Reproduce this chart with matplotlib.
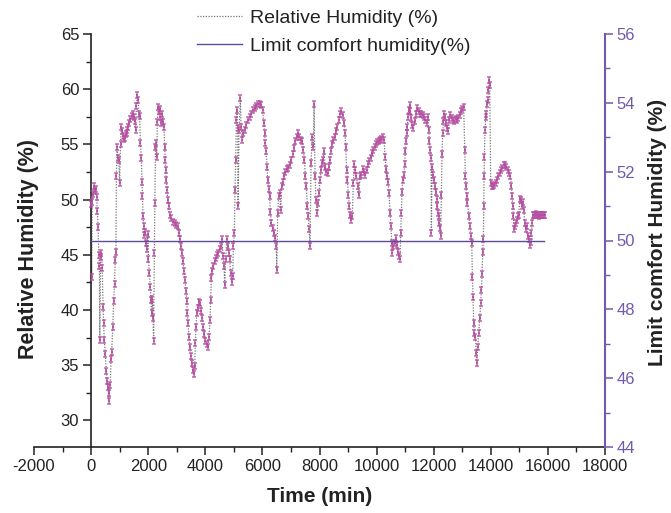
import matplotlib
matplotlib.use("Agg")
import matplotlib.pyplot as plt
from matplotlib.path import Path
from matplotlib.ticker import MultipleLocator

plt.rcParams['font.family'] = ['Liberation Sans', 'DejaVu Sans']

time_min = [
    0, 20, 40, 70, 100, 130, 160, 190, 220, 245, 270, 290, 305, 330, 360, 390, 420, 440, 460, 500,
    530, 560, 590, 615, 640, 670, 700, 720, 760, 790, 820, 845, 870, 885, 910, 940, 970, 1000, 1030, 1060,
    1090, 1120, 1150, 1180, 1210, 1240, 1270, 1300, 1340, 1380, 1420, 1460, 1500, 1530, 1560, 1590, 1620, 1650, 1670, 1700,
    1725, 1760, 1785, 1800, 1820, 1845, 1870, 1900, 1930, 1960, 1990, 2010, 2040, 2070, 2100, 2120, 2150, 2170, 2190, 2215,
    2235, 2255, 2280, 2300, 2320, 2345, 2370, 2400, 2430, 2460, 2490, 2520, 2554, 2577, 2600, 2612, 2636, 2659, 2682, 2717,
    2752, 2811, 2869, 2928, 2986, 3044, 3079, 3103, 3138, 3184, 3219, 3254, 3290, 3325, 3348, 3371, 3395, 3430, 3453, 3488,
    3523, 3558, 3593, 3628, 3652, 3675, 3698, 3733, 3780, 3827, 3862, 3897, 3932, 3967, 4002, 4049, 4095, 4130, 4166, 4189,
    4212, 4247, 4282, 4329, 4364, 4411, 4458, 4504, 4551, 4586, 4621, 4656, 4679, 4714, 4750, 4785, 4820, 4855, 4890, 4925,
    4960, 4983, 5018, 5041, 5065, 5088, 5112, 5135, 5147, 5182, 5228, 5252, 5299, 5333, 5380, 5438, 5496, 5555, 5613, 5672,
    5730, 5788, 5847, 5905, 5964, 6010, 6045, 6080, 6104, 6127, 6162, 6186, 6221, 6256, 6279, 6314, 6361, 6407, 6454, 6489,
    6501, 6536, 6571, 6606, 6641, 6676, 6711, 6758, 6805, 6851, 6898, 6956, 7015, 7061, 7108, 7155, 7202, 7248, 7295, 7342,
    7389, 7435, 7470, 7505, 7540, 7575, 7610, 7634, 7669, 7704, 7739, 7786, 7809, 7844, 7879, 7914, 7949, 7983, 8018, 8053,
    8088, 8123, 8158, 8193, 8240, 8287, 8322, 8357, 8392, 8439, 8485, 8532, 8579, 8626, 8672, 8719, 8766, 8812, 8859, 8894,
    8918, 8953, 8976, 9011, 9046, 9081, 9116, 9151, 9186, 9221, 9256, 9291, 9338, 9373, 9420, 9467, 9513, 9560, 9607, 9654,
    9700, 9747, 9794, 9840, 9887, 9934, 9981, 10027, 10074, 10121, 10167, 10214, 10261, 10296, 10331, 10366, 10401, 10436, 10471, 10506,
    10530, 10553, 10587, 10634, 10680, 10715, 10750, 10785, 10820, 10844, 10867, 10891, 10914, 10949, 10984, 11007, 11031, 11054, 11077, 11101,
    11124, 11159, 11183, 11218, 11253, 11288, 11334, 11381, 11428, 11475, 11521, 11568, 11615, 11661, 11708, 11755, 11802, 11825, 11848, 11883,
    11907, 11918, 11942, 11965, 12000, 12035, 12070, 12105, 12129, 12152, 12175, 12199, 12222, 12245, 12269, 12292, 12316, 12339, 12374, 12409,
    12444, 12479, 12514, 12549, 12584, 12631, 12678, 12724, 12771, 12818, 12865, 12911, 12958, 13005, 13051, 13086, 13110, 13133, 13156, 13180,
    13238, 13273, 13308, 13332, 13355, 13378, 13402, 13425, 13460, 13495, 13507, 13542, 13577, 13612, 13647, 13670, 13694, 13717, 13740, 13752,
    13764, 13775, 13799, 13822, 13846, 13869, 13892, 13916, 13939, 13962, 13997, 14032, 14079, 14126, 14173, 14219, 14266, 14313, 14360, 14406,
    14453, 14500, 14546, 14593, 14640, 14687, 14722, 14745, 14768, 14792, 14815, 14838, 14873, 14908, 14943, 14979, 15014, 15049, 15084, 15119,
    15154, 15189, 15224, 15259, 15294, 15329, 15364, 15399, 15422, 15446, 15469, 15504, 15540, 15575, 15610, 15645, 15680, 15715, 15750, 15785,
    15820, 15855, 15890,
]

rh = [
    49.6, 43.0, 49.8, 50.5, 51.2, 50.8, 51.0, 50.2, 49.0, 47.5, 45.0, 44.0, 37.3, 44.8, 45.2, 43.8, 40.3, 38.8, 37.3, 36.0,
    34.5, 33.6, 33.0, 31.8, 32.5, 33.2, 35.6, 36.2, 38.5, 40.8, 42.4, 44.5, 45.3, 52.1, 54.8, 53.8, 53.6, 51.5, 55.0, 56.6,
    56.2, 55.8, 55.5, 55.6, 55.9, 56.0, 56.3, 56.6, 56.9, 57.3, 57.6, 57.8, 57.5, 57.1, 56.3, 58.5, 59.5, 59.0, 57.8, 57.6,
    55.1, 53.8, 51.6, 50.3, 48.5, 47.6, 46.8, 47.1, 46.1, 45.5, 46.9, 44.6, 43.4, 42.1, 40.9, 39.7, 41.0, 39.3, 37.2, 45.2,
    49.7, 54.8, 55.1, 53.9, 57.0, 58.4, 58.0, 58.2, 57.5, 56.9, 57.8, 57.0, 56.6, 54.8, 53.6, 52.7, 51.8, 50.9, 50.0, 49.4,
    48.6, 48.3, 48.0, 47.9, 47.7, 47.6, 47.0, 46.4, 45.8, 45.2, 44.4, 43.5, 42.7, 41.7, 40.8, 39.7, 38.8, 37.6, 36.7, 35.8,
    35.2, 34.6, 34.2, 34.9, 37.0, 38.5, 39.7, 40.2, 40.7, 40.6, 39.9, 39.3, 38.5, 37.8, 37.2, 36.9, 36.7, 37.6, 39.1, 40.9,
    42.9, 43.5, 44.0, 44.4, 44.7, 45.0, 45.2, 45.5, 45.8, 46.4, 44.9, 44.0, 42.3, 44.6, 46.4, 45.8, 45.2, 44.6, 43.4, 42.5,
    43.1, 45.8, 47.0, 50.9, 53.6, 57.2, 58.1, 56.5, 49.4, 56.3, 59.2, 56.6, 55.4, 56.0, 56.3, 56.8, 57.2, 57.5, 57.8, 58.1,
    58.3, 58.5, 58.7, 58.7, 58.6, 58.1, 56.9, 56.0, 55.1, 54.4, 53.0, 51.8, 51.0, 50.3, 48.9, 47.9, 47.4, 47.0, 46.5, 45.8,
    43.6, 48.8, 50.3, 50.6, 49.1, 51.2, 51.6, 52.1, 52.5, 52.8, 52.9, 53.1, 53.6, 54.1, 54.7, 55.3, 55.7, 56.0, 55.7, 55.4,
    55.3, 54.5, 53.6, 52.1, 51.2, 49.4, 48.5, 47.3, 45.8, 53.3, 55.7, 54.8, 58.7, 52.1, 50.0, 48.8, 49.7, 50.6, 51.8, 52.7,
    53.3, 53.6, 54.4, 53.0, 52.5, 52.4, 53.0, 53.6, 54.4, 55.0, 55.4, 55.7, 56.2, 56.6, 57.2, 57.8, 58.0, 57.7, 56.9, 56.0,
    54.8, 52.7, 51.8, 50.4, 49.4, 48.6, 48.2, 48.5, 51.5, 53.2, 52.7, 52.1, 51.2, 50.4, 52.1, 52.2, 52.8, 52.5, 52.2, 52.7,
    53.2, 53.5, 53.8, 54.2, 54.5, 54.8, 55.05, 55.2, 55.3, 55.4, 55.5, 55.7, 55.4, 53.9, 52.8, 52.1, 51.6, 50.6, 48.8, 47.6,
    46.1, 45.2, 45.8, 46.1, 46.5, 45.9, 45.3, 44.9, 44.6, 47.0, 48.8, 50.7, 51.8, 52.2, 53.2, 54.4, 55.3, 56.0, 56.6, 57.5,
    58.1, 58.6, 58.0, 57.4, 56.8, 56.5, 57.1, 57.8, 58.3, 58.0, 57.8, 57.8, 57.7, 57.5, 57.2, 56.9, 57.5, 56.3, 55.3, 54.5,
    53.8, 47.0, 53.0, 52.2, 51.8, 51.2, 50.7, 50.1, 49.4, 48.8, 48.5, 47.9, 47.4, 46.7, 50.4, 54.1, 56.0, 57.1, 57.8, 57.5,
    56.9, 56.5, 56.2, 57.2, 57.7, 57.4, 57.2, 57.1, 57.3, 57.2, 57.4, 57.7, 58.0, 58.2, 58.4, 54.5, 52.1, 51.2, 50.3, 49.7,
    48.5, 47.6, 46.7, 46.1, 43.0, 41.2, 38.8, 37.9, 37.6, 36.1, 35.2, 36.7, 37.9, 39.3, 40.6, 41.8, 43.3, 45.3, 46.4, 49.4,
    52.1, 53.9, 56.3, 57.5, 57.8, 58.7, 59.0, 59.9, 60.8, 60.4, 51.5, 51.2, 51.2, 51.3, 51.5, 51.8, 52.1, 52.4, 52.7, 52.9,
    53.1, 53.15, 53.0, 52.7, 52.4, 52.1, 51.2, 50.3, 49.4, 48.5, 47.3, 47.6, 47.9, 48.2, 48.5, 48.6, 50.1, 50.0, 49.4, 49.8,
    49.1, 47.9, 47.3, 47.6, 46.7, 46.4, 45.9, 46.2, 47.0, 47.9, 48.6, 48.6, 48.6, 48.7, 48.6, 48.6, 48.5, 48.6, 48.6, 48.6,
    48.6, 48.6, 48.6,
]

limit_time = [0, 15880]
limit_value = [50, 50]

x_ticks = list(range(-2000, 18001, 2000))
left_ticks = [30, 35, 40, 45, 50, 55, 60, 65]
right_ticks = [44, 46, 48, 50, 52, 54, 56]

purple = '#7259AE'
marker_col = '#B64FA2'
txt = '#222222'

fig = plt.figure(figsize=(6.71, 5.13), dpi=100)
ax = fig.add_axes([34/671, 1 - 447/513, 571/671, 413/513])
ax2 = ax.twinx()

ax.set_xlim(-2000, 18000)
ax.set_ylim(27.6, 65)
ax2.set_ylim(44, 56)

# I-shaped marker
ipath = Path([(-0.6, 1), (0.6, 1), (0, 1), (0, -1), (-0.6, -1), (0.6, -1)],
             [Path.MOVETO, Path.LINETO, Path.MOVETO, Path.LINETO, Path.MOVETO, Path.LINETO])

ax.plot(time_min, rh, linestyle=(0, (1, 1.2)), color='#777777', lw=0.9,
        label='Relative Humidity (%)', zorder=2)
ax.plot(time_min, rh, linestyle='none', marker=ipath, markersize=4.5,
        markeredgewidth=1.1, markeredgecolor=marker_col, alpha=0.85, zorder=3)
ax.plot(time_min, rh, linestyle='none', marker='s', markersize=1.8,
        markeredgewidth=0, markerfacecolor=marker_col, alpha=0.85, zorder=3)

ax2.plot(limit_time, limit_value, color='#5E4C9A', lw=1.0,
         label='Limit comfort humidity(%)', zorder=4)

# spines
ax.spines['left'].set_position(('data', 0))
ax.spines['top'].set_visible(False)
ax.spines['right'].set_visible(False)
ax.spines['left'].set_color(txt)
ax.spines['bottom'].set_color(txt)
ax.spines['left'].set_linewidth(1.2)
ax.spines['bottom'].set_linewidth(1.2)
for s in ['top', 'left', 'bottom']:
    ax2.spines[s].set_visible(False)
ax2.spines['right'].set_color(purple)
ax2.spines['right'].set_linewidth(1.5)

ax.set_xticks(x_ticks)
ax.set_xticklabels([str(v) for v in x_ticks])
ax.xaxis.set_minor_locator(MultipleLocator(1000))
ax.set_yticks(left_ticks)
ax.set_yticklabels([str(v) for v in left_ticks])
ax.yaxis.set_minor_locator(MultipleLocator(2.5))
ax2.set_yticks(right_ticks)
ax2.set_yticklabels([str(v) for v in right_ticks])
ax2.yaxis.set_minor_locator(MultipleLocator(1))

ax.tick_params(axis='both', which='major', direction='out', length=5.5, width=1.1,
               color=txt, labelsize=12, labelcolor=txt, pad=3)
ax.tick_params(axis='both', which='minor', direction='out', length=3.5, width=1.0, color=txt)
ax2.tick_params(axis='y', which='major', direction='out', length=5.5, width=1.1,
                color=purple, labelsize=12, labelcolor=purple, pad=3)
ax2.tick_params(axis='y', which='minor', direction='out', length=3.5, width=1.0, color=purple)

ax.set_xlabel('Time (min)', fontsize=15, fontweight='bold', color=txt, va='center')
ax.xaxis.set_label_coords(0.5, -0.12)
ax.set_ylabel('Relative Humidity (%)', fontsize=15.5, fontweight='bold', color=txt, va='center')
ax.yaxis.set_label_coords(-0.0105, 0.48)
ax2.set_ylabel('Limit comfort Humidity (%)', fontsize=15, fontweight='bold', color=txt,
               rotation=90, va='center')
ax2.yaxis.set_label_coords(1.092, 0.52)

h1, l1 = ax.get_legend_handles_labels()
h2, l2 = ax2.get_legend_handles_labels()
fig.legend(h1 + h2, l1 + l2, loc='upper left', bbox_to_anchor=(197/671, 1 - 9/513),
           frameon=False, fontsize=14, handlelength=2.3, handletextpad=0.45,
           labelspacing=0.55, borderpad=0, borderaxespad=0, labelcolor=txt)

fig.savefig('out.png', dpi=100)
